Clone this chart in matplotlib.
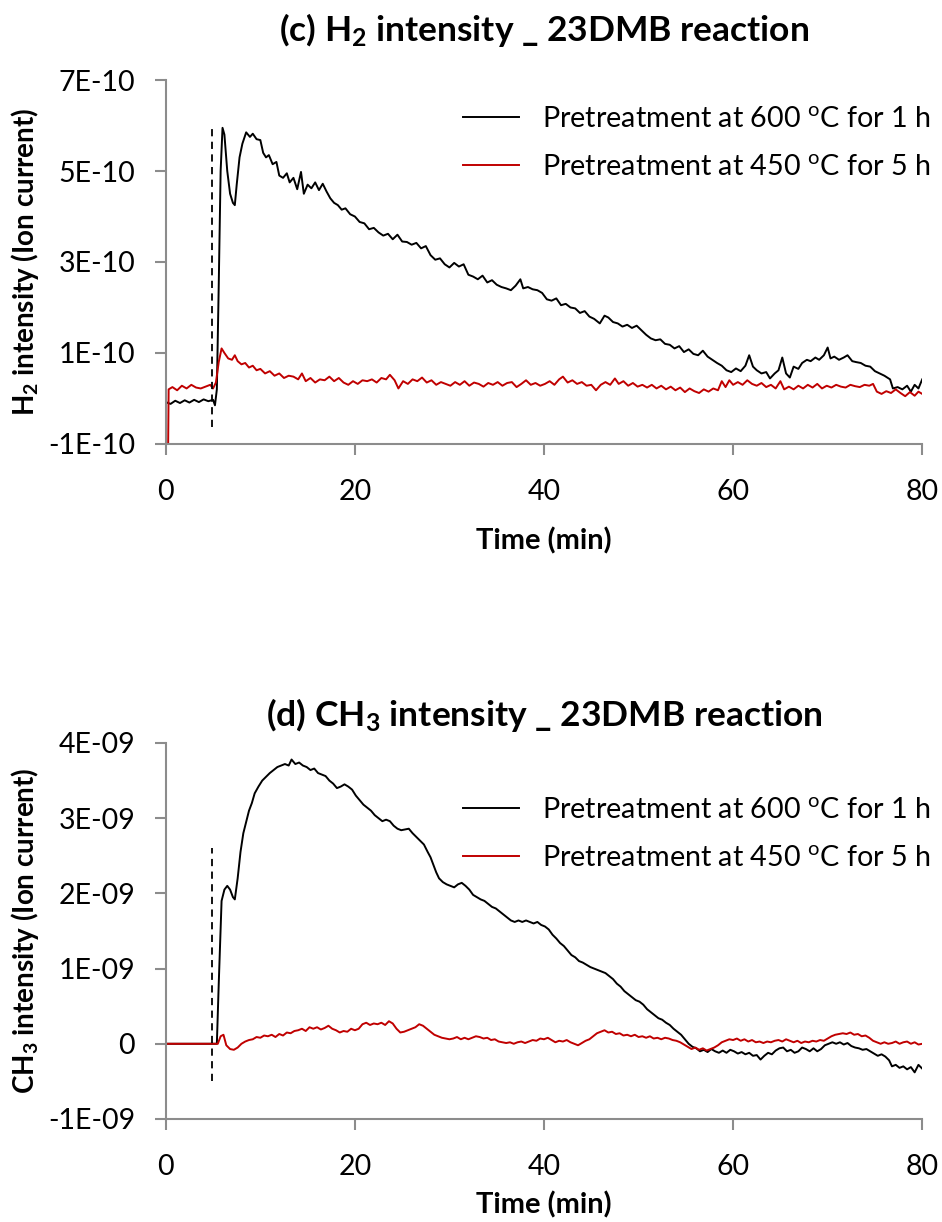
import matplotlib
matplotlib.use('Agg')
import matplotlib.pyplot as plt
from matplotlib.ticker import FixedLocator, FixedFormatter

# DADOS
# (c) H2 - unidades de 1E-10
t_h2_600 = [0, 0.5, 1.0, 1.5, 2.0, 2.5, 3.0, 3.5, 4.0, 4.5, 5.0, 5.2, 5.4, 5.6, 5.8, 6.0,
            6.2, 6.5, 6.8, 7.1, 7.3, 7.5, 7.8, 8.1, 8.5, 8.9, 9.2, 9.6, 10.0, 10.3, 10.6,
            10.9, 11.3, 11.7, 12.0, 12.4, 12.8, 13.1, 13.5, 13.9, 14.3, 14.6, 15.0, 15.4,
            15.8, 16.2, 16.6, 17.0, 17.4, 17.8, 18.2, 18.6, 19.0, 19.5, 20.0, 20.5, 21.0,
            21.5, 22.0, 22.5, 23.0, 23.5, 24.0, 24.5, 25.0, 25.5, 26.0, 26.5, 27.0, 27.5,
            28.0, 28.5, 29.0, 29.5, 30.0, 30.5, 31.0, 31.5, 32.0, 32.5, 33.0, 33.5, 34.0,
            34.5, 35.0, 35.5, 36.0, 36.5, 37.0, 37.5, 37.8, 38.3, 38.8, 39.3, 39.8, 40.3,
            40.8, 41.3, 41.8, 42.3, 42.8, 43.3, 43.8, 44.3, 44.8, 45.3, 45.9, 46.4, 46.8,
            47.3, 47.8, 48.3, 48.8, 49.3, 49.8, 50.3, 50.8, 51.3, 51.8, 52.3, 52.8, 53.3,
            53.8, 54.3, 54.8, 55.3, 55.8, 56.3, 56.8, 57.3, 57.8, 58.3, 58.8, 59.3, 59.8,
            60.3, 60.8, 61.3, 61.7, 62.1, 62.5, 63.0, 63.5, 63.9, 64.4, 64.8, 65.2, 65.6,
            66.0, 66.4, 66.9, 67.3, 67.8, 68.2, 68.7, 69.1, 69.6, 70.0, 70.3, 70.7, 71.2,
            71.7, 72.1, 72.6, 73.0, 73.5, 74.0, 74.5, 75.0, 75.5, 76.0, 76.6, 76.9, 77.4,
            77.9, 78.4, 78.8, 79.2, 79.6, 80.0]
h2_600 = [-0.08, -0.12, -0.05, -0.10, -0.04, -0.09, -0.03, -0.08, -0.02, -0.06, -0.03, -0.15,
          0.2, 2.5, 5.0, 5.95, 5.8, 5.0, 4.5, 4.3, 4.25, 4.7, 5.3, 5.6, 5.85, 5.75, 5.82, 5.7,
          5.68, 5.4, 5.3, 5.35, 5.15, 5.2, 4.9, 4.85, 4.95, 4.75, 4.85, 4.6, 4.98, 4.5, 4.7,
          4.62, 4.75, 4.58, 4.72, 4.55, 4.4, 4.3, 4.25, 4.15, 4.18, 4.05, 4.0, 3.88, 3.85,
          3.72, 3.75, 3.65, 3.58, 3.62, 3.5, 3.6, 3.45, 3.44, 3.38, 3.42, 3.3, 3.35, 3.15,
          3.05, 3.08, 2.95, 2.88, 2.98, 2.9, 2.95, 2.72, 2.68, 2.62, 2.7, 2.55, 2.6, 2.5,
          2.45, 2.42, 2.38, 2.48, 2.62, 2.42, 2.45, 2.4, 2.38, 2.32, 2.18, 2.15, 2.2, 2.05,
          2.08, 2.0, 1.98, 1.88, 1.92, 1.8, 1.75, 1.65, 1.82, 1.78, 1.68, 1.65, 1.58, 1.62,
          1.55, 1.6, 1.5, 1.4, 1.32, 1.28, 1.3, 1.2, 1.18, 1.1, 1.15, 1.02, 1.08, 0.98, 0.95,
          1.05, 0.92, 0.85, 0.78, 0.72, 0.62, 0.58, 0.66, 0.6, 0.72, 0.95, 0.7, 0.62, 0.55,
          0.58, 0.44, 0.55, 0.62, 0.9, 0.55, 0.46, 0.7, 0.65, 0.78, 0.85, 0.82, 0.9, 0.85,
          0.95, 1.12, 0.88, 0.92, 0.85, 0.9, 0.95, 0.82, 0.8, 0.78, 0.72, 0.7, 0.6, 0.55,
          0.5, 0.42, 0.22, 0.25, 0.2, 0.28, 0.15, 0.3, 0.22, 0.42]

t_h2_450 = [0, 0.25, 0.3, 0.7, 1.2, 1.7, 2.2, 2.7, 3.2, 3.7, 4.2, 4.7, 5.0, 5.3, 5.6, 5.9,
            6.2, 6.6, 7.0, 7.3, 7.6, 8.0, 8.4, 8.8, 9.2, 9.6, 10.0, 10.5, 11.0, 11.5, 12.0,
            12.5, 13.0, 13.5, 14.0, 14.4, 14.8, 15.3, 15.8, 16.3, 16.8, 17.3, 17.8, 18.3,
            18.8, 19.3, 19.8, 20.3, 20.8, 21.3, 21.8, 22.3, 22.8, 23.3, 23.7, 24.2, 24.6,
            25.1, 25.6, 26.1, 26.6, 27.1, 27.6, 28.1, 28.6, 29.1, 29.6, 30.1, 30.6, 31.1,
            31.6, 32.1, 32.6, 33.1, 33.6, 34.1, 34.6, 35.1, 35.6, 36.1, 36.6, 37.1, 37.6,
            38.1, 38.6, 39.1, 39.6, 40.1, 40.6, 41.1, 41.6, 42.0, 42.5, 43.0, 43.5, 44.0,
            44.5, 45.0, 45.5, 46.0, 46.5, 47.0, 47.5, 47.9, 48.4, 48.9, 49.4, 49.9, 50.4,
            50.9, 51.4, 51.9, 52.4, 52.9, 53.4, 53.9, 54.4, 54.9, 55.4, 55.9, 56.4, 56.9,
            57.4, 57.9, 58.4, 58.8, 59.2, 59.6, 60.0, 60.5, 61.0, 61.5, 62.0, 62.5, 63.0,
            63.5, 64.0, 64.5, 65.0, 65.4, 65.9, 66.4, 66.9, 67.4, 67.9, 68.4, 68.9, 69.4,
            69.9, 70.4, 70.9, 71.4, 71.9, 72.4, 72.9, 73.4, 73.9, 74.4, 74.8, 75.2, 75.7,
            76.2, 76.7, 77.2, 77.7, 78.2, 78.7, 79.2, 79.6, 80.0]
h2_450 = [-1.0, -1.0, 0.2, 0.25, 0.18, 0.28, 0.22, 0.3, 0.24, 0.22, 0.26, 0.3, 0.22, 0.35,
          0.8, 1.1, 1.0, 0.88, 0.85, 0.95, 0.82, 0.75, 0.78, 0.68, 0.72, 0.62, 0.65, 0.55,
          0.6, 0.5, 0.55, 0.45, 0.5, 0.48, 0.42, 0.55, 0.38, 0.45, 0.35, 0.42, 0.4, 0.48,
          0.38, 0.45, 0.35, 0.3, 0.38, 0.32, 0.4, 0.38, 0.42, 0.35, 0.45, 0.42, 0.52, 0.4,
          0.22, 0.38, 0.32, 0.42, 0.38, 0.46, 0.35, 0.4, 0.3, 0.36, 0.32, 0.28, 0.36, 0.3,
          0.38, 0.28, 0.35, 0.32, 0.26, 0.34, 0.3, 0.36, 0.28, 0.34, 0.36, 0.25, 0.32, 0.4,
          0.3, 0.34, 0.28, 0.32, 0.38, 0.3, 0.42, 0.48, 0.35, 0.4, 0.32, 0.36, 0.28, 0.3,
          0.18, 0.3, 0.36, 0.3, 0.44, 0.32, 0.38, 0.28, 0.34, 0.26, 0.3, 0.24, 0.3, 0.22,
          0.28, 0.2, 0.26, 0.18, 0.24, 0.14, 0.22, 0.16, 0.12, 0.2, 0.15, 0.22, 0.18, 0.38,
          0.25, 0.4, 0.3, 0.36, 0.3, 0.4, 0.32, 0.28, 0.34, 0.25, 0.3, 0.22, 0.38, 0.2, 0.26,
          0.2, 0.28, 0.22, 0.3, 0.24, 0.32, 0.22, 0.28, 0.24, 0.3, 0.26, 0.24, 0.3, 0.27,
          0.25, 0.3, 0.28, 0.32, 0.15, 0.1, 0.16, 0.12, 0.2, 0.12, 0.05, 0.14, 0.06, 0.15, 0.1]

# (d) CH3 - unidades de 1E-09
t_ch3_600 = [0, 5.4, 5.6, 5.9, 6.2, 6.5, 6.8, 7.1, 7.3, 7.6, 7.9, 8.2, 8.5, 8.8, 9.1, 9.4,
             9.8, 10.2, 10.6, 11.0, 11.4, 11.8, 12.2, 12.6, 13.0, 13.3, 13.7, 14.1, 14.5,
             14.9, 15.3, 15.7, 16.1, 16.5, 16.9, 17.3, 17.7, 18.1, 18.5, 18.9, 19.3, 19.7,
             20.1, 20.5, 20.9, 21.3, 21.7, 22.1, 22.5, 22.9, 23.3, 23.7, 24.1, 24.5, 24.9,
             25.3, 25.7, 26.1, 26.5, 26.9, 27.3, 27.7, 28.0, 28.3, 28.6, 28.9, 29.3, 29.7,
             30.1, 30.5, 30.9, 31.3, 31.7, 32.1, 32.5, 32.9, 33.3, 33.7, 34.1, 34.5, 34.9,
             35.3, 35.7, 36.1, 36.5, 36.9, 37.3, 37.7, 38.1, 38.5, 38.9, 39.3, 39.7, 40.1,
             40.5, 40.9, 41.3, 41.7, 42.1, 42.5, 42.9, 43.3, 43.7, 44.1, 44.5, 44.9, 45.3,
             45.7, 46.1, 46.5, 46.9, 47.3, 47.7, 48.1, 48.5, 48.9, 49.3, 49.7, 50.1, 50.5,
             50.9, 51.3, 51.7, 52.1, 52.5, 52.9, 53.3, 53.7, 54.1, 54.5, 54.9, 55.3, 55.7,
             56.1, 56.5, 56.9, 57.3, 57.7, 58.1, 58.5, 58.9, 59.3, 59.7, 60.1, 60.5, 60.9,
             61.3, 61.7, 62.1, 62.5, 62.9, 63.3, 63.7, 64.1, 64.5, 64.9, 65.3, 65.7, 66.1,
             66.5, 66.9, 67.3, 67.7, 68.1, 68.5, 68.9, 69.3, 69.7, 70.1, 70.5, 70.9, 71.3,
             71.7, 72.1, 72.5, 72.9, 73.3, 73.7, 74.1, 74.5, 74.9, 75.3, 75.7, 76.1, 76.5,
             76.8, 77.2, 77.6, 78.0, 78.4, 78.8, 79.2, 79.6, 80.0]
ch3_600 = [0, 0, 0.8, 1.9, 2.05, 2.1, 2.05, 1.95, 1.92, 2.2, 2.55, 2.8, 2.95, 3.1, 3.2,
           3.33, 3.42, 3.5, 3.55, 3.6, 3.64, 3.68, 3.7, 3.72, 3.7, 3.78, 3.72, 3.74, 3.7,
           3.68, 3.64, 3.66, 3.6, 3.58, 3.56, 3.5, 3.46, 3.4, 3.42, 3.45, 3.42, 3.38, 3.3,
           3.24, 3.18, 3.14, 3.1, 3.04, 3.0, 2.96, 2.98, 2.96, 2.9, 2.86, 2.84, 2.85, 2.86,
           2.8, 2.75, 2.7, 2.65, 2.55, 2.48, 2.38, 2.28, 2.2, 2.15, 2.12, 2.1, 2.08, 2.12,
           2.14, 2.1, 2.05, 1.98, 1.95, 1.92, 1.9, 1.86, 1.82, 1.8, 1.76, 1.72, 1.68, 1.64,
           1.62, 1.64, 1.62, 1.64, 1.62, 1.6, 1.62, 1.58, 1.56, 1.52, 1.45, 1.4, 1.34, 1.3,
           1.24, 1.18, 1.15, 1.1, 1.08, 1.05, 1.02, 1.0, 0.98, 0.96, 0.94, 0.9, 0.86, 0.8,
           0.76, 0.7, 0.66, 0.62, 0.58, 0.56, 0.52, 0.46, 0.42, 0.38, 0.34, 0.32, 0.28, 0.25,
           0.2, 0.16, 0.12, 0.06, 0.0, -0.04, -0.06, -0.1, -0.08, -0.11, -0.07, -0.1, -0.12,
           -0.09, -0.12, -0.08, -0.1, -0.13, -0.11, -0.14, -0.12, -0.16, -0.15, -0.21, -0.16,
           -0.12, -0.14, -0.09, -0.06, -0.05, -0.1, -0.08, -0.12, -0.1, -0.05, -0.07, -0.1,
           -0.06, -0.1, -0.07, -0.02, 0.0, 0.02, 0.0, 0.02, -0.01, 0.01, -0.03, -0.05, -0.06,
           -0.08, -0.07, -0.1, -0.13, -0.16, -0.14, -0.17, -0.22, -0.3, -0.28, -0.32, -0.3,
           -0.34, -0.31, -0.38, -0.28, -0.33]

t_ch3_450 = [0, 5.5, 5.8, 6.1, 6.4, 6.8, 7.2, 7.6, 8.0, 8.4, 8.8, 9.2, 9.6, 10.0, 10.4,
             10.8, 11.2, 11.6, 12.0, 12.4, 12.8, 13.2, 13.6, 14.0, 14.4, 14.8, 15.2, 15.6,
             16.0, 16.4, 16.8, 17.2, 17.6, 18.0, 18.4, 18.8, 19.2, 19.6, 20.0, 20.4, 20.8,
             21.2, 21.6, 22.0, 22.4, 22.8, 23.2, 23.6, 24.0, 24.4, 24.8, 25.2, 25.6, 26.0,
             26.4, 26.8, 27.2, 27.6, 28.0, 28.4, 28.8, 29.2, 29.6, 30.0, 30.4, 30.8, 31.2,
             31.6, 32.0, 32.4, 32.8, 33.2, 33.6, 34.0, 34.4, 34.8, 35.2, 35.6, 36.0, 36.4,
             36.8, 37.2, 37.6, 38.0, 38.4, 38.8, 39.2, 39.6, 40.0, 40.4, 40.8, 41.2, 41.6,
             42.0, 42.4, 42.8, 43.2, 43.6, 44.0, 44.4, 44.8, 45.2, 45.6, 46.0, 46.4, 46.8,
             47.2, 47.6, 48.0, 48.4, 48.8, 49.2, 49.6, 50.0, 50.4, 50.8, 51.2, 51.6, 52.0,
             52.4, 52.8, 53.2, 53.6, 54.0, 54.4, 54.8, 55.2, 55.6, 56.0, 56.4, 56.8, 57.2,
             57.6, 58.0, 58.4, 58.8, 59.2, 59.6, 60.0, 60.4, 60.8, 61.2, 61.6, 62.0, 62.4,
             62.8, 63.2, 63.6, 64.0, 64.4, 64.8, 65.2, 65.6, 66.0, 66.4, 66.8, 67.2, 67.6,
             68.0, 68.4, 68.8, 69.2, 69.6, 70.0, 70.4, 70.8, 71.2, 71.6, 72.0, 72.4, 72.8,
             73.2, 73.6, 74.0, 74.4, 74.8, 75.2, 75.6, 76.0, 76.4, 76.8, 77.2, 77.6, 78.0,
             78.4, 78.8, 79.2, 79.6, 80.0]
ch3_450 = [0, 0, 0.1, 0.12, -0.02, -0.07, -0.08, -0.05, 0.0, 0.03, 0.05, 0.06, 0.09, 0.08,
           0.11, 0.1, 0.12, 0.09, 0.13, 0.11, 0.15, 0.14, 0.17, 0.18, 0.2, 0.17, 0.22, 0.2,
           0.22, 0.19, 0.21, 0.24, 0.2, 0.18, 0.15, 0.17, 0.16, 0.2, 0.18, 0.2, 0.26, 0.28,
           0.25, 0.27, 0.26, 0.28, 0.25, 0.3, 0.27, 0.2, 0.15, 0.16, 0.18, 0.2, 0.22, 0.26,
           0.24, 0.2, 0.16, 0.12, 0.1, 0.08, 0.07, 0.06, 0.07, 0.09, 0.06, 0.08, 0.06, 0.08,
           0.1, 0.09, 0.07, 0.08, 0.05, 0.06, 0.03, 0.02, 0.01, 0.02, 0.0, 0.02, 0.03, 0.01,
           0.03, 0.05, 0.04, 0.07, 0.06, 0.08, 0.05, 0.02, 0.04, 0.03, 0.05, 0.02, 0.0,
           -0.02, 0.01, 0.04, 0.06, 0.1, 0.14, 0.16, 0.18, 0.15, 0.16, 0.13, 0.14, 0.11,
           0.12, 0.1, 0.12, 0.09, 0.1, 0.08, 0.1, 0.07, 0.08, 0.06, 0.08, 0.07, 0.05, 0.04,
           0.02, -0.01, -0.04, -0.07, -0.05, -0.08, -0.06, -0.09, -0.07, -0.05, -0.02, 0.02,
           0.04, 0.06, 0.05, 0.07, 0.04, 0.06, 0.03, 0.05, 0.02, 0.03, 0.01, 0.03, 0.02,
           0.04, 0.05, 0.03, 0.06, 0.04, 0.02, 0.04, 0.01, 0.03, 0.02, 0.04, 0.03, 0.05,
           0.04, 0.07, 0.1, 0.12, 0.13, 0.14, 0.13, 0.15, 0.12, 0.13, 0.1, 0.11, 0.08, 0.04,
           0.02, 0.0, 0.02, 0.0, 0.01, 0.03, 0.0, 0.02, 0.03, 0.0, 0.02, -0.01, 0.0]

LEGENDA = ['Pretreatment at 600 $^\\mathregular{o}$C for 1 h',
           'Pretreatment at 450 $^\\mathregular{o}$C for 5 h']
CORES = ['black', '#c00000']

x_ticks = [0, 20, 40, 60, 80]
h2_ticks = [-1e-10, 1e-10, 3e-10, 5e-10, 7e-10]
h2_ticklabels = ['-1E-10', '1E-10', '3E-10', '5E-10', '7E-10']
ch3_ticks = [-1e-9, 0, 1e-9, 2e-9, 3e-9, 4e-9]
ch3_ticklabels = ['-1E-09', '0', '1E-09', '2E-09', '3E-09', '4E-09']

plt.rcParams['font.family'] = ['Lato', 'DejaVu Sans']
plt.rcParams['mathtext.fontset'] = 'custom'
plt.rcParams['mathtext.rm'] = 'Lato'
plt.rcParams['mathtext.bf'] = 'Lato:bold'
plt.rcParams['mathtext.it'] = 'Lato:italic'

CINZA = '#8c8c8c'


def formatar_eixo(ax, ticks, labels, ylim, xlabelpad):
    for lado in ['top', 'right']:
        ax.spines[lado].set_visible(False)
    for lado in ['left', 'bottom']:
        ax.spines[lado].set_color(CINZA)
        ax.spines[lado].set_linewidth(1.5)
    ax.set_xlim(0, 80)
    ax.set_ylim(*ylim)
    ax.xaxis.set_major_locator(FixedLocator(x_ticks))
    ax.yaxis.set_major_locator(FixedLocator(ticks))
    ax.yaxis.set_major_formatter(FixedFormatter(labels))
    ax.tick_params(axis='both', direction='out', length=8, width=1.5,
                   color=CINZA, labelsize=20.5)
    ax.tick_params(axis='y', pad=14)
    ax.tick_params(axis='x', pad=17)
    ax.set_xlabel('Time (min)', fontsize=21, fontweight='bold', labelpad=xlabelpad)


def legenda(ax, y):
    ax.legend(loc='upper right', bbox_to_anchor=(1.045, y), frameon=False,
              fontsize=20.7, handlelength=1.95, handletextpad=0.8, labelspacing=0.78)


fig = plt.figure(figsize=(9.42, 12.22), dpi=100)
ax1 = fig.add_axes([0.176, 0.6367, 0.803, 0.2978])
ax2 = fig.add_axes([0.176, 0.0843, 0.803, 0.3077])

# painel (c)
ax1.plot(t_h2_600, [v * 1e-10 for v in h2_600], color=CORES[0], lw=1.4, label=LEGENDA[0])
ax1.plot(t_h2_450, [v * 1e-10 for v in h2_450], color=CORES[1], lw=1.4, label=LEGENDA[1])
ax1.vlines(4.9, -0.63e-10, 6.0e-10, colors='black', linestyles=(0, (4, 3)), lw=1.3)
formatar_eixo(ax1, h2_ticks, h2_ticklabels, (-1e-10, 7e-10), 16)
ax1.set_ylabel('H$_\\mathbf{2}$ intensity (Ion current)', fontsize=20,
               fontweight='bold', labelpad=5)
ax1.set_title('(c) H$_\\mathbf{2}$ intensity _ 23DMB reaction', fontsize=25.5,
              fontweight='bold', pad=28)
legenda(ax1, 1.0)

# painel (d)
ax2.plot(t_ch3_600, [v * 1e-9 for v in ch3_600], color=CORES[0], lw=1.4, label=LEGENDA[0])
ax2.plot(t_ch3_450, [v * 1e-9 for v in ch3_450], color=CORES[1], lw=1.4, label=LEGENDA[1])
ax2.vlines(4.9, -0.5e-9, 2.6e-9, colors='black', linestyles=(0, (4, 3)), lw=1.3)
formatar_eixo(ax2, ch3_ticks, ch3_ticklabels, (-1e-9, 4e-9), 8)
ax2.set_ylabel('CH$_\\mathbf{3}$ intensity (Ion current)', fontsize=20,
               fontweight='bold', labelpad=5)
ax2.set_title('(d) CH$_\\mathbf{3}$ intensity _ 23DMB reaction', fontsize=25.5,
              fontweight='bold', pad=12)
legenda(ax2, 0.925)

fig.savefig('out.png', dpi=100)
